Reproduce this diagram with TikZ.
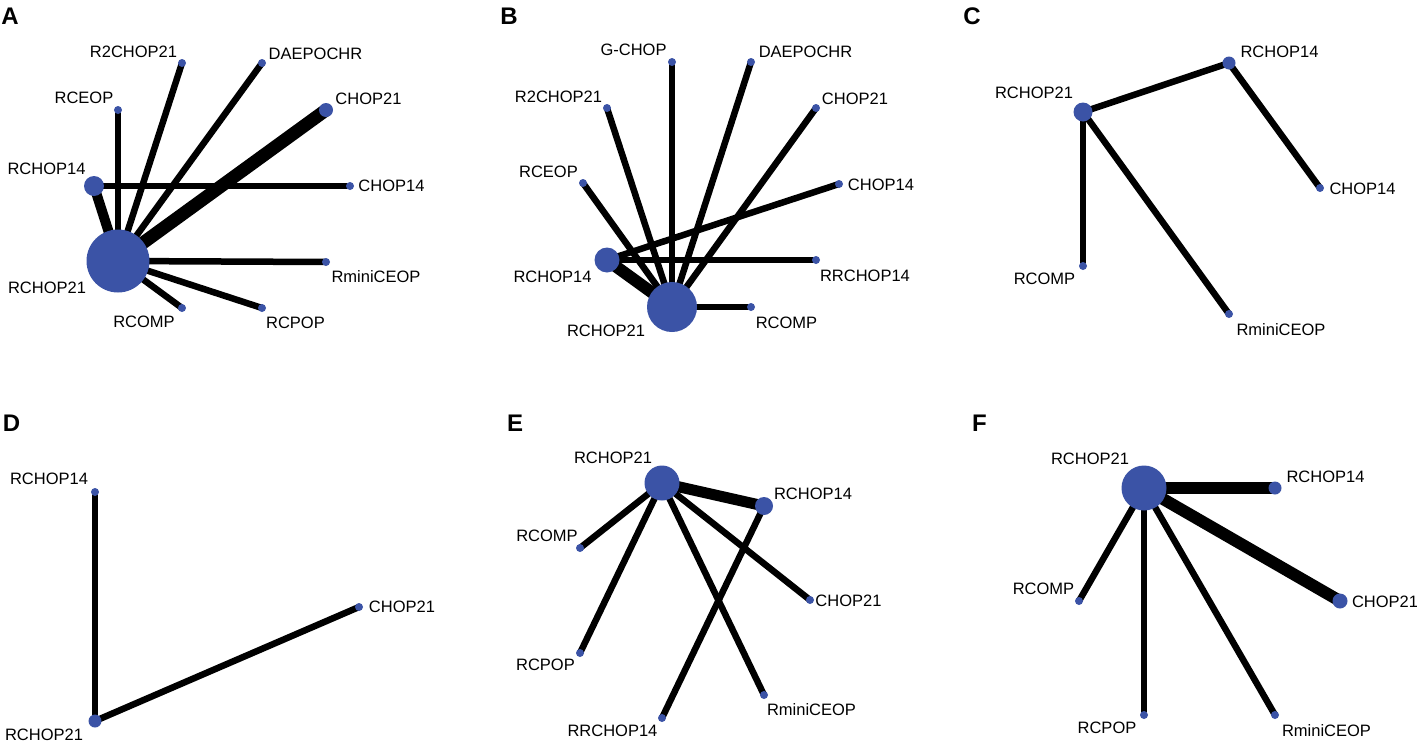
\documentclass[tikz,border=0pt]{standalone}
\usepackage{fontspec}
\setmainfont{Liberation Sans}
\usetikzlibrary{backgrounds}
\definecolor{netblue}{RGB}{59,83,166}
\tikzset{
  trt/.style={circle,fill=netblue,inner sep=0pt,minimum size=#1},
  trt/.default=8pt,
  link/.style={line width=#1,black},
  link/.default=6.5pt,
  tname/.style={inner sep=0pt,font=\fontsize{16.5}{18}\selectfont},
  panel/.style={inner sep=0pt,font=\fontsize{24}{26}\selectfont\bfseries}
}
\begin{document}
\begin{tikzpicture}[x=1pt,y=-1pt]
    \clip (0,0) rectangle (1417,742) ;

    \node[panel] (pa) at (10,16) {A} ;
    \node[trt=63pt] (a-rchop21) at (118,261) {} ;
    \node[trt=20pt] (a-rchop14) at (94,186) {} ;
    \node[trt] (a-r2chop21) at (182,63) {} ;
    \node[trt] (a-daepochr) at (262,63) {} ;
    \node[trt] (a-rceop) at (118,110) {} ;
    \node[trt=14pt] (a-chop21) at (326,110) {} ;
    \node[trt] (a-chop14) at (350,186) {} ;
    \node[trt] (a-rminiceop) at (326,262) {} ;
    \node[trt] (a-rcomp) at (182,308) {} ;
    \node[trt] (a-rcpop) at (262,308) {} ;
    \node[tname] (a-r2chop21-t) at (133.5,52) {R2CHOP21} ;
    \node[tname] (a-daepochr-t) at (315.5,54) {DAEPOCHR} ;
    \node[tname] (a-rceop-t) at (84,98) {RCEOP} ;
    \node[tname] (a-chop21-t) at (368.5,99) {CHOP21} ;
    \node[tname] (a-rchop14-t) at (46.5,169) {RCHOP14} ;
    \node[tname] (a-chop14-t) at (391.5,186) {CHOP14} ;
    \node[tname] (a-rminiceop-t) at (376,277) {RminiCEOP} ;
    \node[tname] (a-rchop21-t) at (47,288) {RCHOP21} ;
    \node[tname] (a-rcomp-t) at (144,322) {RCOMP} ;
    \node[tname] (a-rcpop-t) at (295.5,323) {RCPOP} ;

    \node[panel] (pb) at (509,16) {B} ;
    \node[trt=50pt] (b-rchop21) at (672,307) {} ;
    \node[trt=25pt] (b-rchop14) at (607,260) {} ;
    \node[trt] (b-gchop) at (672,62) {} ;
    \node[trt] (b-daepochr) at (751,62) {} ;
    \node[trt] (b-r2chop21) at (607,108) {} ;
    \node[trt] (b-chop21) at (816,108) {} ;
    \node[trt] (b-rceop) at (583,183) {} ;
    \node[trt] (b-chop14) at (839,184) {} ;
    \node[trt] (b-rrchop14) at (816,260) {} ;
    \node[trt] (b-rcomp) at (751,307) {} ;
    \node[tname] (b-gchop-t) at (633.5,50) {G-CHOP} ;
    \node[tname] (b-daepochr-t) at (805.5,52) {DAEPOCHR} ;
    \node[tname] (b-r2chop21-t) at (558.5,97) {R2CHOP21} ;
    \node[tname] (b-chop21-t) at (855,99) {CHOP21} ;
    \node[tname] (b-rceop-t) at (548.5,172) {RCEOP} ;
    \node[tname] (b-chop14-t) at (881,185) {CHOP14} ;
    \node[tname] (b-rchop14-t) at (552.5,277) {RCHOP14} ;
    \node[tname] (b-rrchop14-t) at (865,276) {RRCHOP14} ;
    \node[tname] (b-rchop21-t) at (606,331) {RCHOP21} ;
    \node[tname] (b-rcomp-t) at (786.5,323) {RCOMP} ;

    \node[panel] (pc) at (972,16) {C} ;
    \node[trt=19pt] (c-rchop21) at (1083,112) {} ;
    \node[trt=13pt] (c-rchop14) at (1229,63) {} ;
    \node[trt] (c-chop14) at (1320,188) {} ;
    \node[trt] (c-rcomp) at (1083,266) {} ;
    \node[trt] (c-rminiceop) at (1229,314) {} ;
    \node[tname] (c-rchop21-t) at (1034,93) {RCHOP21} ;
    \node[tname] (c-rchop14-t) at (1279.5,52) {RCHOP14} ;
    \node[tname] (c-chop14-t) at (1362.5,189) {CHOP14} ;
    \node[tname] (c-rcomp-t) at (1044.5,279) {RCOMP} ;
    \node[tname] (c-rminiceop-t) at (1281,330) {RminiCEOP} ;

    \node[panel] (pd) at (11.5,423) {D} ;
    \node[trt] (d-rchop14) at (95,492) {} ;
    \node[trt=13pt] (d-rchop21) at (95,721) {} ;
    \node[trt] (d-chop21) at (359,607) {} ;
    \node[tname] (d-rchop14-t) at (49,479) {RCHOP14} ;
    \node[tname] (d-chop21-t) at (402,607) {CHOP21} ;
    \node[tname] (d-rchop21-t) at (44,734.5) {RCHOP21} ;

    \node[panel] (pe) at (515,423) {E} ;
    \node[trt=35pt] (e-rchop21) at (662,483) {} ;
    \node[trt=18pt] (e-rchop14) at (764,506) {} ;
    \node[trt] (e-rcomp) at (580,548) {} ;
    \node[trt] (e-chop21) at (810,600) {} ;
    \node[trt] (e-rcpop) at (580,653) {} ;
    \node[trt] (e-rminiceop) at (764,695) {} ;
    \node[trt] (e-rrchop14) at (662,718) {} ;
    \node[tname] (e-rchop21-t) at (613,458) {RCHOP21} ;
    \node[tname] (e-rchop14-t) at (813,494) {RCHOP14} ;
    \node[tname] (e-rcomp-t) at (547,536) {RCOMP} ;
    \node[tname] (e-chop21-t) at (848.5,601) {CHOP21} ;
    \node[tname] (e-rcpop-t) at (545.5,665) {RCPOP} ;
    \node[tname] (e-rminiceop-t) at (811.5,710) {RminiCEOP} ;
    \node[tname] (e-rrchop14-t) at (612.5,731) {RRCHOP14} ;

    \node[panel] (pf) at (979.5,423) {F} ;
    \node[trt=45pt] (f-rchop21) at (1144,488) {} ;
    \node[trt=13pt] (f-rchop14) at (1275,488) {} ;
    \node[trt=15pt] (f-chop21) at (1340,601) {} ;
    \node[trt] (f-rcomp) at (1079,601) {} ;
    \node[trt] (f-rcpop) at (1144,715) {} ;
    \node[trt] (f-rminiceop) at (1275,715) {} ;
    \node[tname] (f-rchop21-t) at (1090,459) {RCHOP21} ;
    \node[tname] (f-rchop14-t) at (1325.5,477) {RCHOP14} ;
    \node[tname] (f-rcomp-t) at (1043.5,589) {RCOMP} ;
    \node[tname] (f-chop21-t) at (1385,602) {CHOP21} ;
    \node[tname] (f-rcpop-t) at (1107,728) {RCPOP} ;
    \node[tname] (f-rminiceop-t) at (1326.5,731) {RminiCEOP} ;

    \begin{scope}[on background layer]
    \draw[link=10pt] (a-rchop21.center) -- (a-rchop14.center) ;
    \draw[link=13pt] (a-rchop21.center) -- (a-chop21.center) ;
    \draw[link] (a-rchop21.center) -- (a-r2chop21.center) ;
    \draw[link] (a-rchop21.center) -- (a-daepochr.center) ;
    \draw[link] (a-rchop21.center) -- (a-rceop.center) ;
    \draw[link] (a-rchop21.center) -- (a-rminiceop.center) ;
    \draw[link] (a-rchop21.center) -- (a-rcomp.center) ;
    \draw[link] (a-rchop21.center) -- (a-rcpop.center) ;
    \draw[link] (a-rchop14.center) -- (a-chop14.center) ;

    \draw[link=12pt] (b-rchop21.center) -- (b-rchop14.center) ;
    \draw[link] (b-rchop21.center) -- (b-rceop.center) ;
    \draw[link] (b-rchop21.center) -- (b-r2chop21.center) ;
    \draw[link] (b-rchop21.center) -- (b-gchop.center) ;
    \draw[link] (b-rchop21.center) -- (b-daepochr.center) ;
    \draw[link] (b-rchop21.center) -- (b-chop21.center) ;
    \draw[link] (b-rchop21.center) -- (b-rcomp.center) ;
    \draw[link] (b-rchop14.center) -- (b-chop14.center) ;
    \draw[link] (b-rchop14.center) -- (b-rrchop14.center) ;

    \draw[link] (c-rchop21.center) -- (c-rchop14.center) ;
    \draw[link] (c-rchop14.center) -- (c-chop14.center) ;
    \draw[link] (c-rchop21.center) -- (c-rcomp.center) ;
    \draw[link] (c-rchop21.center) -- (c-rminiceop.center) ;

    \draw[link] (d-rchop21.center) -- (d-rchop14.center) ;
    \draw[link] (d-rchop21.center) -- (d-chop21.center) ;

    \draw[link=11pt] (e-rchop21.center) -- (e-rchop14.center) ;
    \draw[link] (e-rchop21.center) -- (e-rcomp.center) ;
    \draw[link] (e-rchop21.center) -- (e-rcpop.center) ;
    \draw[link] (e-rchop21.center) -- (e-rminiceop.center) ;
    \draw[link] (e-rchop21.center) -- (e-chop21.center) ;
    \draw[link] (e-rchop14.center) -- (e-rrchop14.center) ;

    \draw[link=12pt] (f-rchop21.center) -- (f-rchop14.center) ;
    \draw[link=12pt] (f-rchop21.center) -- (f-chop21.center) ;
    \draw[link] (f-rchop21.center) -- (f-rcomp.center) ;
    \draw[link] (f-rchop21.center) -- (f-rcpop.center) ;
    \draw[link] (f-rchop21.center) -- (f-rminiceop.center) ;
    \end{scope}

\end{tikzpicture}
\end{document}
